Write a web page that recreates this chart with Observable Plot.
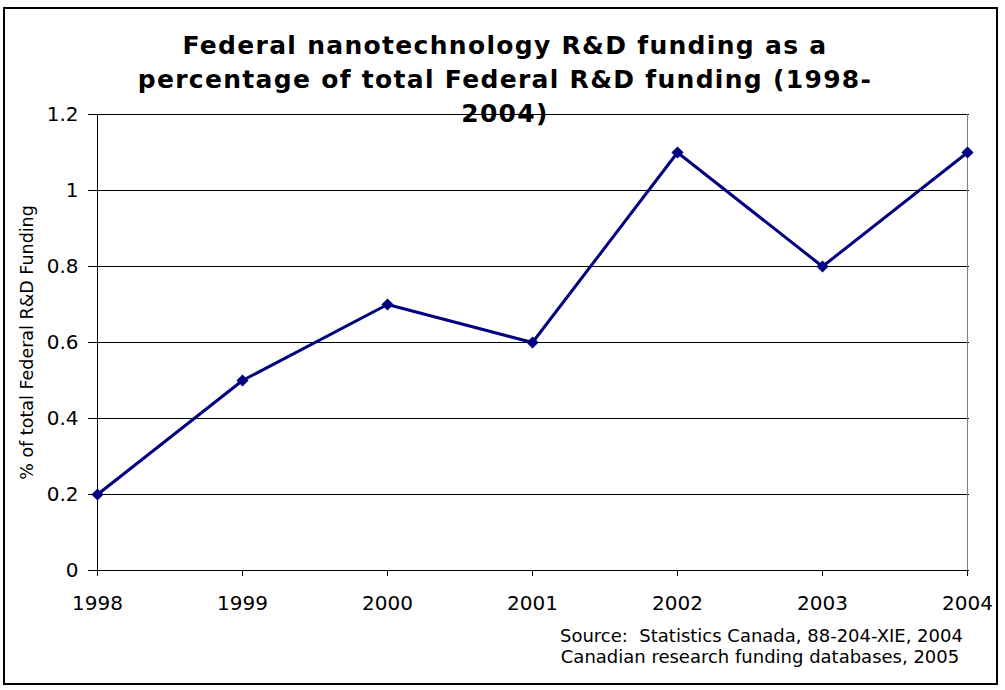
<!DOCTYPE html>
<html>
<head>
<meta charset="utf-8">
<script src="https://cdn.jsdelivr.net/npm/d3@7"></script>
<script src="https://cdn.jsdelivr.net/npm/@observablehq/plot@0.6"></script>
<style>
  html, body { margin: 0; padding: 0; background: #fff; }
  #wrap { position: relative; width: 1005px; height: 690px; overflow: hidden; font-family: "DejaVu Sans", Verdana, sans-serif; }
  #frame { position: absolute; left: 3px; top: 7px; width: 995px; height: 678px; border: 2px solid #000; box-sizing: border-box; pointer-events: none; }
  #chart { position: absolute; left: 0; top: 0; }
  #title { position: absolute; left: 55px; width: 900px; top: 29px; text-align: center; font-weight: bold; font-size: 25px; letter-spacing: 1.3px; line-height: 34px; color: #000; white-space: nowrap; }
  #source { position: absolute; left: 560px; width: 400px; top: 625px; text-align: center; font-size: 18px; line-height: 21px; color: #000; white-space: nowrap; }
</style>
</head>
<body>
<div id="wrap">
  <div id="chart"></div>
  <div id="title">Federal nanotechnology R&amp;D funding as a<br>percentage of total Federal R&amp;D funding (1998-<br>2004)</div>
  <div id="source">Source:&nbsp; Statistics Canada, 88-204-XIE, 2004<br>Canadian research funding databases, 2005</div>
  <div id="frame"></div>
</div>
<script>
const years = ["1998", "1999", "2000", "2001", "2002", "2003", "2004"];
const values = [0.2, 0.5, 0.7, 0.6, 1.1, 0.8, 1.1];
const yTicks = [0, 0.2, 0.4, 0.6, 0.8, 1.0, 1.2];
const yLabel = "% of total Federal R&D Funding";

const data = years.map((y, i) => ({year: y, value: values[i]}));

const chart = Plot.plot({
  width: 1005,
  height: 690,
  marginLeft: 94,
  marginRight: 36,
  marginTop: 114,
  marginBottom: 120,
  style: {fontFamily: "'DejaVu Sans', Verdana, sans-serif", fontSize: "20px", color: "#000", background: "transparent"},
  x: {type: "point", domain: years, padding: 0},
  y: {domain: [0, 1.2]},
  marks: [
    Plot.ruleY(yTicks, {y: d => d, stroke: "#000", strokeWidth: 1}),
    Plot.ruleX([years[years.length - 1]], {x: d => d, y1: 0, y2: 1.2, stroke: "#808080", strokeWidth: 1}),
    Plot.ruleX([years[0]], {x: d => d, y1: 0, y2: 1.2, stroke: "#000", strokeWidth: 1}),
    Plot.axisY({ticks: yTicks, tickFormat: d => String(+d.toFixed(1)), tickSize: 6, tickPadding: 10, label: null, fontSize: 20}),
    Plot.axisX({tickSize: 6, tickPadding: 19, label: null, fontSize: 20}),
    Plot.text([yLabel], {frameAnchor: "left", dx: -67, rotate: -90, textAnchor: "middle", text: d => d, fontSize: 17.5, fill: "#000"}),
    Plot.line(data, {x: "year", y: "value", stroke: "#000080", strokeWidth: 3}),
    Plot.dot(data, {x: "year", y: "value", symbol: "diamond2", r: 4.5, fill: "#000080", stroke: "#000080"})
  ]
});
document.getElementById("chart").appendChild(chart);
</script>
</body>
</html>
